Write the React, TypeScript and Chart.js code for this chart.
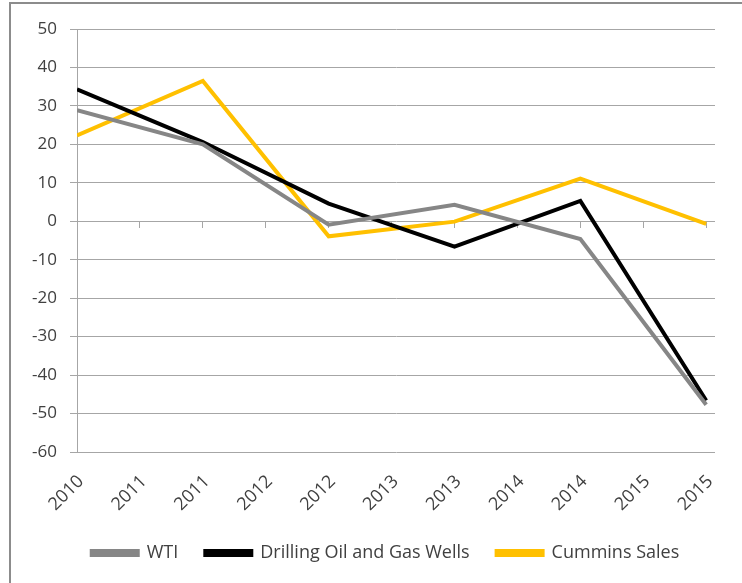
import React, { useEffect, useRef } from "react";
import { Chart, registerables } from "chart.js";

Chart.register(...registerables);

const tickLabels = ["2010", "2011", "2011", "2012", "2012", "2013", "2013", "2014", "2014", "2015", "2015"];
const pointPositions = [0, 2, 4, 6, 8, 10];
const wti = [28.9, 20, -0.9, 4.3, -4.6, -47.7];
const drilling = [34.3, 20.6, 4.6, -6.6, 5.3, -46.6];
const cummins = [22.3, 36.5, -3.9, -0.1, 11.1, -0.7];

const FONT = "'Open Sans', 'Noto Sans', sans-serif";
const TEXT = "#404040";
const GRID = "#a6a6a6";

function toPoints(values: number[]) {
  return values.map((y, i) => ({ x: pointPositions[i], y }));
}

const setTicks = (scale: any) => {
  scale.ticks = tickLabels.map((_, i) => ({ value: i }));
};

// Shift the legend horizontally to match the reference placement
const legendShift = {
  id: "legendShift",
  afterLayout(chart: any) {
    if (chart.legend) {
      chart.legend.left += 28;
      chart.legend.right += 28;
    }
  },
};

export default function App() {
  const ref = useRef<HTMLCanvasElement>(null);
  useEffect(() => {
    if (!ref.current) return;
    const chart = new Chart(ref.current, {
      type: "line",
      data: {
        datasets: [
          {
            label: "WTI",
            data: toPoints(wti),
            borderColor: "#868686",
            backgroundColor: "#868686",
            borderWidth: 4,
            pointRadius: 0,
            tension: 0,
          },
          {
            label: "Drilling Oil and Gas Wells",
            data: toPoints(drilling),
            borderColor: "#000000",
            backgroundColor: "#000000",
            borderWidth: 4,
            pointRadius: 0,
            tension: 0,
          },
          {
            label: "Cummins Sales",
            data: toPoints(cummins),
            borderColor: "#ffc000",
            backgroundColor: "#ffc000",
            borderWidth: 4,
            pointRadius: 0,
            tension: 0,
          },
        ],
      },
      plugins: [legendShift],
      options: {
        animation: false,
        responsive: false,
        maintainAspectRatio: false,
        layout: { padding: { left: 0, right: 27, top: 29, bottom: 11 } },
        plugins: {
          tooltip: { enabled: false },
          legend: {
            position: "bottom",
            labels: {
              color: TEXT,
              font: { family: FONT, size: 18 },
              boxWidth: 46,
              boxHeight: 4,
              padding: 27,
            },
          },
        },
        scales: {
          x: {
            type: "linear",
            position: "bottom",
            min: 0,
            max: 10.14,
            afterBuildTicks: setTicks,
            afterFit: (s: any) => {
              s.height = 65;
              s.paddingLeft = 0;
              s.paddingRight = 0;
            },
            grid: { display: false, drawTicks: false },
            border: { display: false },
            ticks: {
              autoSkip: false,
              maxRotation: 45,
              minRotation: 45,
              padding: 19,
              labelOffset: 4,
              color: TEXT,
              font: { family: FONT, size: 18 },
              callback: (v: any) => tickLabels[Math.round(Number(v))] ?? "",
            },
          },
          x0: {
            type: "linear",
            position: { y: 0 } as any,
            min: 0,
            max: 10.14,
            afterBuildTicks: setTicks,
            afterFit: (s: any) => {
              s.paddingLeft = 0;
              s.paddingRight = 0;
            },
            grid: { drawOnChartArea: false, drawTicks: true, tickLength: 7, color: GRID, lineWidth: 1 },
            border: { display: false },
            ticks: { display: false },
          },
          y: {
            min: -60,
            max: 50,
            afterFit: (s: any) => {
              s.width = 77;
            },
            grid: { color: GRID, lineWidth: 1, tickLength: 7, drawTicks: true },
            border: { display: true, color: GRID, width: 1 },
            ticks: {
              stepSize: 10,
              padding: 13,
              color: TEXT,
              font: { family: FONT, size: 17 },
            },
          },
        },
      },
    });
    return () => chart.destroy();
  }, []);

  return (
    <div>
      <div
        style={{
          position: "fixed",
          left: 9,
          top: 2,
          width: 900,
          height: 800,
          borderLeft: "2px solid #8c8c8c",
          borderTop: "2px solid #8c8c8c",
          background: "#ffffff",
        }}
      />
      <canvas
        ref={ref}
        width={742}
        height={583}
        style={{ position: "fixed", left: 0, top: 0, width: 742, height: 583 }}
      />
    </div>
  );
}
